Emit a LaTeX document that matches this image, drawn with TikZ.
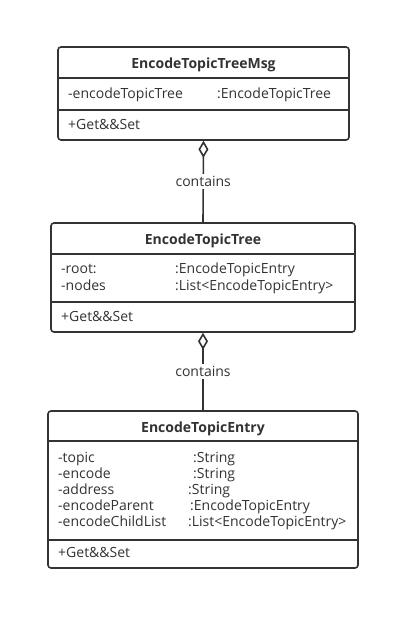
\documentclass[tikz,border=0pt]{standalone}
\usepackage{fontspec}
\setmainfont{Open Sans}
\usetikzlibrary{arrows.meta}
\definecolor{ink}{HTML}{333333}
\tikzset{
  umlbox/.style={draw=ink, line width=1.6pt, rounded corners=3pt, fill=white, inner sep=0pt},
  sepline/.style={draw=ink, line width=1.6pt},
  head/.style={font=\bfseries\fontsize{14}{16}\selectfont, text=ink, inner sep=0pt, yshift=-1.5pt},
  attr/.style={font=\fontsize{14}{16}\selectfont, text=ink, inner sep=0pt, anchor=mid west, yshift=-1.5pt},
  agg/.style={draw=ink, line width=1.6pt, {Diamond[open, length=17pt, width=10pt]}-},
  lbl/.style={font=\fontsize{14}{16}\selectfont, text=ink, fill=white, inner sep=2pt}
}
\begin{document}
\begin{tikzpicture}[x=1pt,y=-1pt]
\useasboundingbox[fill=white] (0,0) rectangle (420,630);
% Box 1
\node[umlbox, minimum width=291pt, minimum height=93pt] (msg) at (203.5,93.5) {};
\draw[sepline] (58,78) -- (349,78);
\draw[sepline] (58,110) -- (349,110);
\node[head] (msgh) at (203.5,63) {EncodeTopicTreeMsg};
\node[attr] (msga1) at (68,94) {-encodeTopicTree};
\node[attr] (msgt1) at (217,94) {:EncodeTopicTree};
\node[attr] (msgm) at (68,125) {+Get\&\&Set};
% Box 2
\node[umlbox, minimum width=304pt, minimum height=109pt] (tree) at (203,277.5) {};
\draw[sepline] (51,254) -- (355,254);
\draw[sepline] (51,302) -- (355,302);
\node[head] (treeh) at (203,239) {EncodeTopicTree};
\node[attr] (treea1) at (61,269) {-root:};
\node[attr] (treet1) at (175,269) {:EncodeTopicEntry};
\node[attr] (treea2) at (61,286) {-nodes};
\node[attr] (treet2) at (175,286) {:List<EncodeTopicEntry>};
\node[attr] (treem) at (61,317) {+Get\&\&Set};
% Box 3
\node[umlbox, minimum width=310pt, minimum height=157pt] (entry) at (203,489.5) {};
\draw[sepline] (48,441) -- (358,441);
\draw[sepline] (48,540) -- (358,540);
\node[head] (entryh) at (203,427) {EncodeTopicEntry};
\node[attr] (ea1) at (58,458) {-topic};
\node[attr] (et1) at (193,458) {:String};
\node[attr] (ea2) at (58,474) {-encode};
\node[attr] (et2) at (193,474) {:String};
\node[attr] (ea3) at (58,490) {-address};
\node[attr] (et3) at (188,490) {:String};
\node[attr] (ea4) at (58,506) {-encodeParent};
\node[attr] (et4) at (190,506) {:EncodeTopicEntry};
\node[attr] (ea5) at (58,522) {-encodeChildList};
\node[attr] (et5) at (188,522) {:List<EncodeTopicEntry>};
\node[attr] (em) at (58,553) {+Get\&\&Set};
% Connectors
\draw[agg] (msg.south) -- node[lbl] (c1) {contains} (tree.north);
\draw[agg] (tree.south) -- node[lbl] (c2) {contains} (entry.north);
\end{tikzpicture}
\end{document}
